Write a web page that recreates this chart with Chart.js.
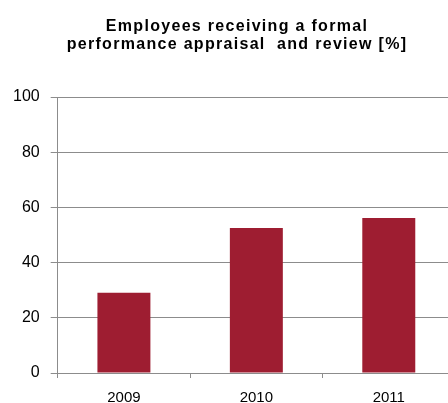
<!DOCTYPE html>
<html lang="en">
<head>
  <meta charset="UTF-8">
  <title>Performance Appraisal</title>
  <script src="https://cdn.jsdelivr.net/npm/chart.js"></script>
  <style>
    html, body {
      margin: 0;
      padding: 0;
      background: #fff;
      overflow: hidden;
    }
    #wrap {
      width: 448px;
      height: 403px;
      overflow: hidden;
    }
  </style>
</head>
<body>

<div id="wrap">
  <canvas id="appraisalChart" width="474" height="418"></canvas>
</div>

<script>
  var years = ['2009', '2010', '2011'];
  var appraisedPct = [29.1, 52.5, 56.2];
  var titleLines = ['Employees receiving a formal', 'performance appraisal  and review [%]'];

  var gridGray = '#8c8c8c';
  var fontFamily = 'Liberation Sans, Arial, sans-serif';

  // two-line bold heading, slightly letter-spaced
  var headingPlugin = {
    id: 'heading',
    afterDraw: function(chart) {
      var c = chart.ctx;
      c.save();
      c.font = 'bold 16px ' + fontFamily;
      c.fillStyle = '#000';
      c.textAlign = 'center';
      c.textBaseline = 'alphabetic';
      if ('letterSpacing' in c) c.letterSpacing = '1.3px';
      c.fillText(titleLines[0], 237, 31);
      c.fillText(titleLines[1], 237, 48.5);
      c.restore();
    }
  };

  var ctx = document.getElementById('appraisalChart').getContext('2d');

  var appraisalChart = new Chart(ctx, {
    type: 'bar',
    data: {
      labels: years,
      datasets: [{
        data: appraisedPct,
        backgroundColor: '#9e1d31',
        borderWidth: 0,
        barPercentage: 0.4,
        categoryPercentage: 1.0
      }]
    },
    options: {
      responsive: false,
      animation: false,
      layout: {
        padding: { left: 2, right: 19, top: 97, bottom: 0 }
      },
      scales: {
        y: {
          min: 0,
          max: 100,
          ticks: {
            stepSize: 20,
            color: '#000',
            padding: 11,
            font: { family: fontFamily, size: 16 }
          },
          grid: {
            color: gridGray,
            lineWidth: 1,
            tickLength: 7
          },
          border: { color: gridGray, width: 1 }
        },
        x: {
          offset: true,
          ticks: {
            color: '#000',
            padding: 11,
            font: { family: fontFamily, size: 15 }
          },
          grid: {
            offset: true,
            drawOnChartArea: false,
            color: gridGray,
            tickLength: 5
          },
          border: { color: gridGray, width: 1 }
        }
      },
      plugins: {
        legend: { display: false },
        tooltip: { enabled: false },
        title: { display: false }
      }
    },
    plugins: [headingPlugin]
  });
</script>

</body>
</html>
